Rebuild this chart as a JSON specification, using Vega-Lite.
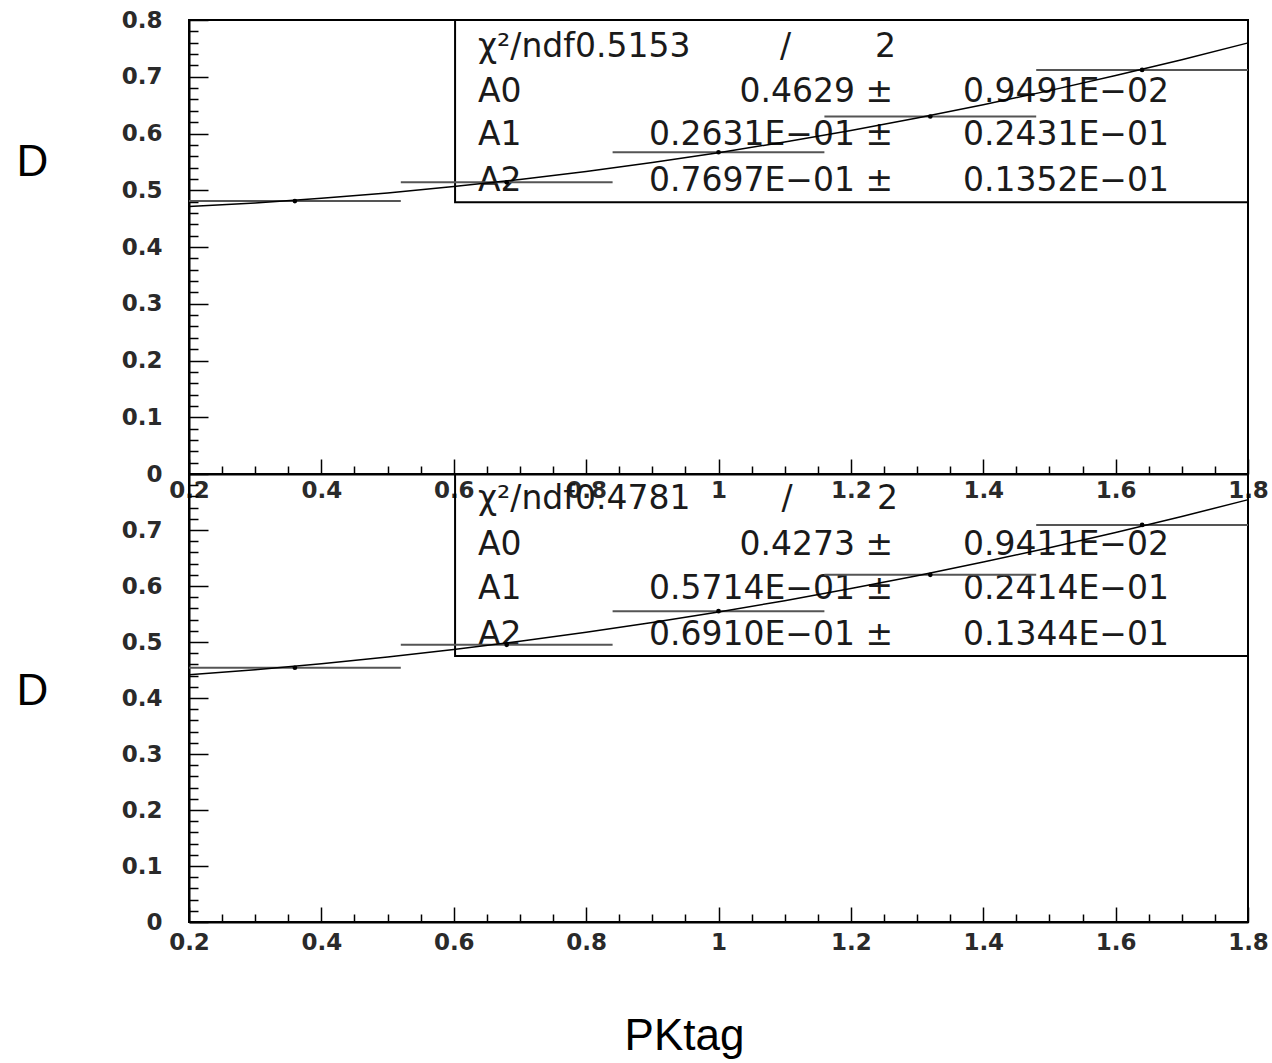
{
  "$schema": "https://vega.github.io/schema/vega-lite/v6.json",
  "background": "white",
  "padding": {"left": 15, "top": 8, "right": 0, "bottom": 0},
  "spacing": 0,
  "bounds": "flush",
  "config": {
    "view": {"stroke": "black", "strokeWidth": 2},
    "axis": {
      "grid": false,
      "domainColor": "black",
      "domainWidth": 2,
      "tickColor": "black",
      "tickWidth": 1.5,
      "labelFont": "DejaVu Sans",
      "labelFontSize": 23,
      "labelFontWeight": "bold",
      "labelColor": "#2a2a2a",
      "labelFlush": false,
      "titleFont": "Liberation Sans",
      "titleFontSize": 44,
      "titleFontWeight": "normal",
      "titleColor": "black"
    },
    "text": {"font": "DejaVu Sans", "fontSize": 33, "color": "#1a1a1a"}
  },
  "vconcat": [
    {
      "width": 1059,
      "height": 454,
      "layer": [
        {
          "data": {"values": [{"x0": 0.602, "x1": 1.8, "y0": 0.479, "y1": 0.8}]},
          "mark": {"type": "rect", "fill": "transparent", "stroke": "black", "strokeWidth": 2},
          "encoding": {
            "x": {"field": "x0", "type": "quantitative", "scale": {"domain": [0.2, 1.8], "nice": false, "zero": false},
              "axis": {"orient": "bottom", "values": [0.2, 0.4, 0.6, 0.8, 1, 1.2, 1.4, 1.6, 1.8], "format": "~g", "tickSize": -15, "labelPadding": 20, "title": null}},
            "x2": {"field": "x1"},
            "y": {"field": "y0", "type": "quantitative", "scale": {"domain": [0, 0.8], "nice": false, "zero": false},
              "axis": {"orient": "left", "values": [0, 0.1, 0.2, 0.3, 0.4, 0.5, 0.6, 0.7, 0.8], "format": "~g", "tickSize": -19, "labelPadding": 46,
                "title": "D", "titleAngle": 0, "titleX": -157, "titleY": 155, "titleAlign": "center", "titleBaseline": "alphabetic"}},
            "y2": {"field": "y1"}
          }
        },
        {
          "data": {"values": [
            {"x": 0.6367, "y": 0.752, "t": "χ²/ndf0.5153"},
            {"x": 1.093, "y": 0.752, "t": "/"},
            {"x": 1.2365, "y": 0.752, "t": "2"},
            {"x": 0.6367, "y": 0.673, "t": "A0"},
            {"x": 0.6367, "y": 0.597, "t": "A1"},
            {"x": 0.6367, "y": 0.516, "t": "A2"}
          ]},
          "mark": {"type": "text", "align": "left", "baseline": "middle"},
          "encoding": {
            "x": {"field": "x", "type": "quantitative", "axis": null},
            "y": {"field": "y", "type": "quantitative", "axis": null},
            "text": {"field": "t"}
          }
        },
        {
          "data": {"values": [
            {"x": 1.2637, "y": 0.673, "t": "0.4629 ±"},
            {"x": 1.2637, "y": 0.597, "t": "0.2631E−01 ±"},
            {"x": 1.2637, "y": 0.516, "t": "0.7697E−01 ±"}
          ]},
          "mark": {"type": "text", "align": "right", "baseline": "middle"},
          "encoding": {
            "x": {"field": "x", "type": "quantitative", "axis": null},
            "y": {"field": "y", "type": "quantitative", "axis": null},
            "text": {"field": "t"}
          }
        },
        {
          "data": {"values": [
            {"x": 1.525, "y": 0.673, "t": "0.9491E−02"},
            {"x": 1.525, "y": 0.597, "t": "0.2431E−01"},
            {"x": 1.525, "y": 0.516, "t": "0.1352E−01"}
          ]},
          "mark": {"type": "text", "align": "center", "baseline": "middle"},
          "encoding": {
            "x": {"field": "x", "type": "quantitative", "axis": null},
            "y": {"field": "y", "type": "quantitative", "axis": null},
            "text": {"field": "t"}
          }
        },
        {
          "data": {"values": [
            {"x": 0.36, "xlo": 0.2, "xhi": 0.52, "y": 0.481},
            {"x": 0.68, "xlo": 0.52, "xhi": 0.84, "y": 0.514},
            {"x": 1.0, "xlo": 0.84, "xhi": 1.16, "y": 0.567},
            {"x": 1.32, "xlo": 1.16, "xhi": 1.48, "y": 0.63},
            {"x": 1.64, "xlo": 1.48, "xhi": 1.8, "y": 0.712}
          ]},
          "mark": {"type": "rule", "color": "#555555", "strokeWidth": 2},
          "encoding": {
            "x": {"field": "xlo", "type": "quantitative", "axis": null},
            "x2": {"field": "xhi"},
            "y": {"field": "y", "type": "quantitative", "axis": null}
          }
        },
        {
          "data": {"values": [
            {"x": 0.36, "y": 0.481},
            {"x": 0.68, "y": 0.514},
            {"x": 1.0, "y": 0.567},
            {"x": 1.32, "y": 0.63},
            {"x": 1.64, "y": 0.712}
          ]},
          "mark": {"type": "circle", "color": "black", "size": 22, "opacity": 1},
          "encoding": {
            "x": {"field": "x", "type": "quantitative", "axis": null},
            "y": {"field": "y", "type": "quantitative", "axis": null}
          }
        },
        {
          "data": {"values": [
            {"x": 0.2, "y": 0.47124}, {"x": 0.3, "y": 0.47772}, {"x": 0.4, "y": 0.48574}, {"x": 0.5, "y": 0.4953},
            {"x": 0.6, "y": 0.5064}, {"x": 0.7, "y": 0.51903}, {"x": 0.8, "y": 0.53321}, {"x": 0.9, "y": 0.54893},
            {"x": 1.0, "y": 0.56618}, {"x": 1.1, "y": 0.58498}, {"x": 1.2, "y": 0.60531}, {"x": 1.3, "y": 0.62718},
            {"x": 1.4, "y": 0.6506}, {"x": 1.5, "y": 0.67555}, {"x": 1.6, "y": 0.70204}, {"x": 1.7, "y": 0.73007},
            {"x": 1.8, "y": 0.75964}
          ]},
          "mark": {"type": "line", "color": "black", "strokeWidth": 1.5, "interpolate": "monotone"},
          "encoding": {
            "x": {"field": "x", "type": "quantitative",
              "axis": {"orient": "bottom", "values": [0.25, 0.3, 0.35, 0.45, 0.5, 0.55, 0.65, 0.7, 0.75, 0.85, 0.9, 0.95, 1.05, 1.1, 1.15, 1.25, 1.3, 1.35, 1.45, 1.5, 1.55, 1.65, 1.7, 1.75], "tickSize": -8, "labels": false, "domain": false, "title": null}},
            "y": {"field": "y", "type": "quantitative",
              "axis": {"orient": "left", "values": [0.02, 0.04, 0.06, 0.08, 0.12, 0.14, 0.16, 0.18, 0.22, 0.24, 0.26, 0.28, 0.32, 0.34, 0.36, 0.38, 0.42, 0.44, 0.46, 0.48, 0.52, 0.54, 0.56, 0.58, 0.62, 0.64, 0.66, 0.68, 0.72, 0.74, 0.76, 0.78], "tickSize": -9, "labels": false, "domain": false, "title": null}}
          }
        }
      ],
      "resolve": {"axis": {"x": "independent", "y": "independent"}}
    },
    {
      "width": 1059,
      "height": 448,
      "layer": [
        {
          "data": {"values": [{"x0": 0.602, "x1": 1.8, "y0": 0.475, "y1": 0.8}]},
          "mark": {"type": "rect", "fill": "transparent", "stroke": "black", "strokeWidth": 2},
          "encoding": {
            "x": {"field": "x0", "type": "quantitative", "scale": {"domain": [0.2, 1.8], "nice": false, "zero": false},
              "axis": {"orient": "bottom", "values": [0.2, 0.4, 0.6, 0.8, 1, 1.2, 1.4, 1.6, 1.8], "format": "~g", "tickSize": -15, "labelPadding": 24,
                "title": "PKtag", "titleX": 495, "titleY": 127, "titleAlign": "center", "titleBaseline": "alphabetic"}},
            "x2": {"field": "x1"},
            "y": {"field": "y0", "type": "quantitative", "scale": {"domain": [0, 0.8], "nice": false, "zero": false},
              "axis": {"orient": "left", "values": [0, 0.1, 0.2, 0.3, 0.4, 0.5, 0.6, 0.7], "format": "~g", "tickSize": -19, "labelPadding": 46,
                "title": "D", "titleAngle": 0, "titleX": -157, "titleY": 230, "titleAlign": "center", "titleBaseline": "alphabetic"}},
            "y2": {"field": "y1"}
          }
        },
        {
          "data": {"values": [
            {"x": 0.6367, "y": 0.755, "t": "χ²/ndf0.4781"},
            {"x": 1.095, "y": 0.755, "t": "/"},
            {"x": 1.2395, "y": 0.755, "t": "2"},
            {"x": 0.6367, "y": 0.673, "t": "A0"},
            {"x": 0.6367, "y": 0.595, "t": "A1"},
            {"x": 0.6367, "y": 0.5125, "t": "A2"}
          ]},
          "mark": {"type": "text", "align": "left", "baseline": "middle"},
          "encoding": {
            "x": {"field": "x", "type": "quantitative", "axis": null},
            "y": {"field": "y", "type": "quantitative", "axis": null},
            "text": {"field": "t"}
          }
        },
        {
          "data": {"values": [
            {"x": 1.2637, "y": 0.673, "t": "0.4273 ±"},
            {"x": 1.2637, "y": 0.595, "t": "0.5714E−01 ±"},
            {"x": 1.2637, "y": 0.5125, "t": "0.6910E−01 ±"}
          ]},
          "mark": {"type": "text", "align": "right", "baseline": "middle"},
          "encoding": {
            "x": {"field": "x", "type": "quantitative", "axis": null},
            "y": {"field": "y", "type": "quantitative", "axis": null},
            "text": {"field": "t"}
          }
        },
        {
          "data": {"values": [
            {"x": 1.525, "y": 0.673, "t": "0.9411E−02"},
            {"x": 1.525, "y": 0.595, "t": "0.2414E−01"},
            {"x": 1.525, "y": 0.5125, "t": "0.1344E−01"}
          ]},
          "mark": {"type": "text", "align": "center", "baseline": "middle"},
          "encoding": {
            "x": {"field": "x", "type": "quantitative", "axis": null},
            "y": {"field": "y", "type": "quantitative", "axis": null},
            "text": {"field": "t"}
          }
        },
        {
          "data": {"values": [
            {"x": 0.36, "xlo": 0.2, "xhi": 0.52, "y": 0.454},
            {"x": 0.68, "xlo": 0.52, "xhi": 0.84, "y": 0.495},
            {"x": 1.0, "xlo": 0.84, "xhi": 1.16, "y": 0.555},
            {"x": 1.32, "xlo": 1.16, "xhi": 1.48, "y": 0.62},
            {"x": 1.64, "xlo": 1.48, "xhi": 1.8, "y": 0.709}
          ]},
          "mark": {"type": "rule", "color": "#555555", "strokeWidth": 2},
          "encoding": {
            "x": {"field": "xlo", "type": "quantitative", "axis": null},
            "x2": {"field": "xhi"},
            "y": {"field": "y", "type": "quantitative", "axis": null}
          }
        },
        {
          "data": {"values": [
            {"x": 0.36, "y": 0.454},
            {"x": 0.68, "y": 0.495},
            {"x": 1.0, "y": 0.555},
            {"x": 1.32, "y": 0.62},
            {"x": 1.64, "y": 0.709}
          ]},
          "mark": {"type": "circle", "color": "black", "size": 22, "opacity": 1},
          "encoding": {
            "x": {"field": "x", "type": "quantitative", "axis": null},
            "y": {"field": "y", "type": "quantitative", "axis": null}
          }
        },
        {
          "data": {"values": [
            {"x": 0.2, "y": 0.44149}, {"x": 0.3, "y": 0.45066}, {"x": 0.4, "y": 0.46121}, {"x": 0.5, "y": 0.47315},
            {"x": 0.6, "y": 0.48646}, {"x": 0.7, "y": 0.50116}, {"x": 0.8, "y": 0.51724}, {"x": 0.9, "y": 0.5347},
            {"x": 1.0, "y": 0.55354}, {"x": 1.1, "y": 0.57377}, {"x": 1.2, "y": 0.59537}, {"x": 1.3, "y": 0.61836},
            {"x": 1.4, "y": 0.64273}, {"x": 1.5, "y": 0.66849}, {"x": 1.6, "y": 0.69562}, {"x": 1.7, "y": 0.72414},
            {"x": 1.8, "y": 0.75404}
          ]},
          "mark": {"type": "line", "color": "black", "strokeWidth": 1.5, "interpolate": "monotone"},
          "encoding": {
            "x": {"field": "x", "type": "quantitative",
              "axis": {"orient": "bottom", "values": [0.25, 0.3, 0.35, 0.45, 0.5, 0.55, 0.65, 0.7, 0.75, 0.85, 0.9, 0.95, 1.05, 1.1, 1.15, 1.25, 1.3, 1.35, 1.45, 1.5, 1.55, 1.65, 1.7, 1.75], "tickSize": -8, "labels": false, "domain": false, "title": null}},
            "y": {"field": "y", "type": "quantitative",
              "axis": {"orient": "left", "values": [0.02, 0.04, 0.06, 0.08, 0.12, 0.14, 0.16, 0.18, 0.22, 0.24, 0.26, 0.28, 0.32, 0.34, 0.36, 0.38, 0.42, 0.44, 0.46, 0.48, 0.52, 0.54, 0.56, 0.58, 0.62, 0.64, 0.66, 0.68, 0.72, 0.74, 0.76, 0.78], "tickSize": -9, "labels": false, "domain": false, "title": null}}
          }
        }
      ],
      "resolve": {"axis": {"x": "independent", "y": "independent"}}
    }
  ]
}
